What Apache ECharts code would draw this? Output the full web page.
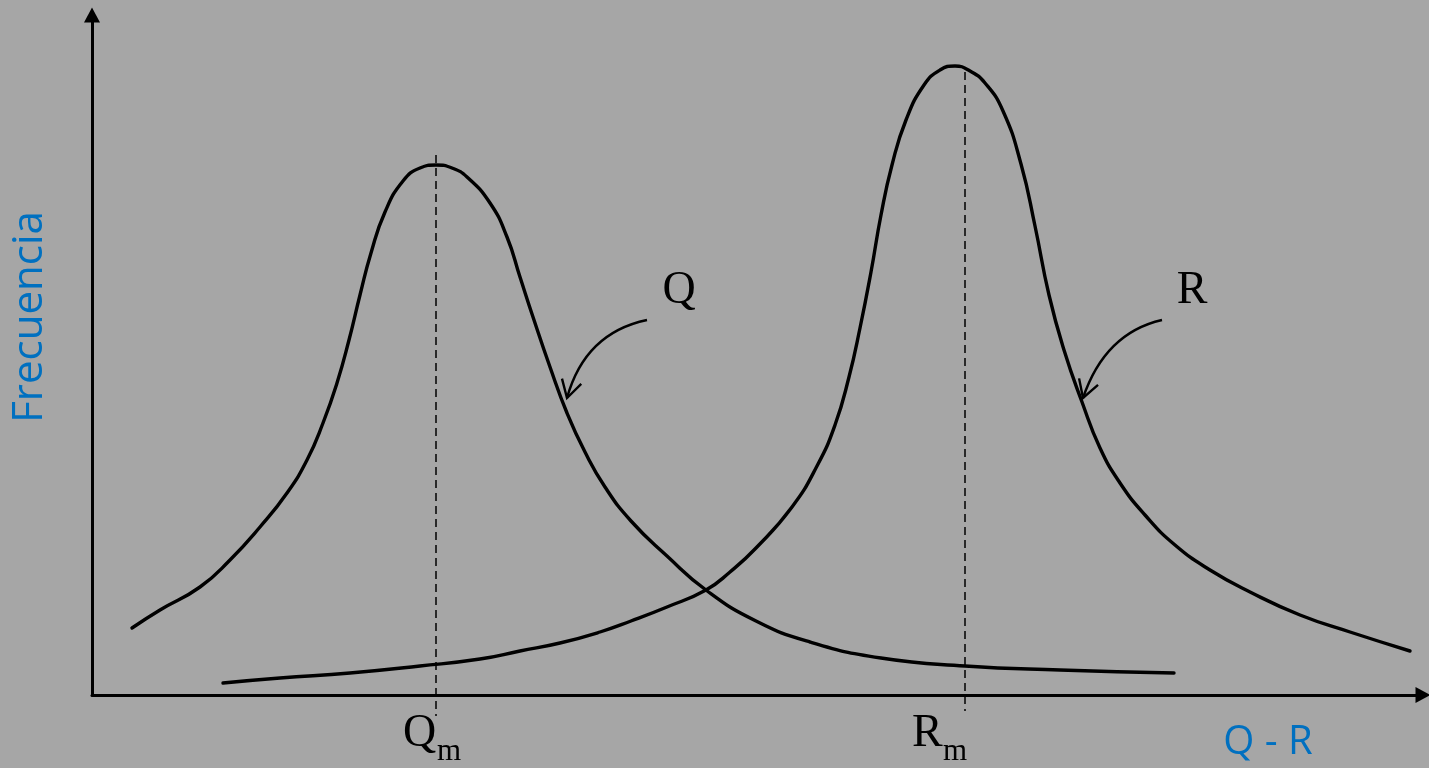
<!DOCTYPE html>
<html>
<head>
<meta charset="utf-8">
<script src="https://cdn.jsdelivr.net/npm/echarts@6/dist/echarts.min.js"></script>
<style>
  html, body { margin: 0; padding: 0; background: #a6a6a6; }
  #chart { width: 1429px; height: 768px; }
</style>
</head>
<body>
<div id="chart"></div>
<script>
// Frequency curves of Q and R (arbitrary units: x runs along Q - R, y is frequency)
const curveQ = [
  [40, 67], [68, 85], [108, 108], [138, 135], [168, 168], [195, 202], [215, 235],
  [231, 272], [245, 312], [257, 355], [268, 400], [279, 442], [293, 483], [311, 514],
  [328, 527], [344, 530], [360, 527], [375, 518], [398, 492], [415, 458], [428, 418],
  [441, 378], [458, 328], [475, 282], [493, 243], [513, 208], [539, 174], [575, 139],
  [614, 105], [664, 74], [718, 53], [789, 37], [873, 29], [968, 25], [1082, 22]
];
const curveR = [
  [131, 12], [188, 17], [258, 22], [328, 29], [388, 36], [428, 44], [468, 52],
  [508, 63], [539, 74], [575, 88], [614, 105], [638, 123], [664, 147], [700, 188],
  [725, 229], [743, 270], [757, 318], [768, 367], [779, 423], [789, 480], [800, 530],
  [814, 575], [832, 610], [848, 625], [863, 629], [878, 624], [893, 612], [911, 584],
  [929, 531], [943, 469], [957, 400], [972, 345], [990, 293], [1008, 247], [1028, 212],
  [1053, 180], [1083, 150], [1118, 125], [1158, 103], [1208, 80], [1258, 63], [1318, 44]
];

// Modes: dashed guides and their labels Q_m, R_m
const modeNames = ['Q', 'R'];
const modeSub = 'm';
const modeX = [344, 873];
const modeGuideTop = [540, 623];
const modeGuideBottom = [-21, -16];

// Callouts naming each curve
const calloutNames = ['Q', 'R'];
const calloutLabelAt = [[587, 404], [1100, 404]];
const calloutFrom = [[555, 375], [1070, 375]];
const calloutCtrl = [[493, 362], [1013, 362]];
const calloutTip = [[475, 297], [991, 297]];

const axisNameX = 'Q - R';
const axisNameY = 'Frecuencia';

// ---- styles ----
const INK = '#000000';
const BLUE = '#0070c0';
const SERIF = '"Liberation Serif", "Times New Roman", serif';
const SANS = '"Open Sans", "Noto Sans", sans-serif';
// label layout relative to each guide (pixels): left edge of the letter, advance to the subscript
const modeLabelDx = [-33, -53];
const modeLabelAdvance = [34, 31];

const chart = echarts.init(document.getElementById('chart'), null, { renderer: 'canvas' });

const guideSeries = modeX.map((x, i) => ({
  type: 'line',
  data: [[x, modeGuideTop[i]], [x, modeGuideBottom[i]]],
  symbol: 'none',
  clip: false,
  silent: true,
  z: 1,
  lineStyle: { color: INK, width: 1.5, type: [8, 5] }
}));

function curveSeries(name, data) {
  return {
    name: name,
    type: 'line',
    data: data,
    symbol: 'none',
    smooth: 0.5,
    silent: true,
    z: 3,
    lineStyle: { color: INK, width: 3.4, cap: 'round', join: 'round' }
  };
}

const modeLabelSeries = {
  type: 'custom',
  coordinateSystem: 'cartesian2d',
  silent: true,
  clip: false,
  z: 4,
  data: modeX.map(x => [x, 0]),
  renderItem: function (params, api) {
    const i = params.dataIndex;
    const p = api.coord([api.value(0), api.value(1)]);
    const left = p[0] + modeLabelDx[i];
    return {
      type: 'group',
      children: [
        {
          type: 'text',
          x: left, y: p[1] + 39,
          style: {
            text: modeNames[i], fill: INK, font: '46px ' + SERIF,
            align: 'left', textAlign: 'left', verticalAlign: 'middle', textVerticalAlign: 'middle'
          }
        },
        {
          type: 'text',
          x: left + modeLabelAdvance[i], y: p[1] + 57,
          style: {
            text: modeSub, fill: INK, font: '31px ' + SERIF,
            align: 'left', textAlign: 'left', verticalAlign: 'middle', textVerticalAlign: 'middle'
          }
        }
      ]
    };
  }
};

const calloutSeries = {
  type: 'custom',
  coordinateSystem: 'cartesian2d',
  silent: true,
  clip: false,
  z: 4,
  data: calloutNames.map((n, i) => [
    calloutFrom[i][0], calloutFrom[i][1],
    calloutCtrl[i][0], calloutCtrl[i][1],
    calloutTip[i][0], calloutTip[i][1],
    calloutLabelAt[i][0], calloutLabelAt[i][1]
  ]),
  renderItem: function (params, api) {
    const i = params.dataIndex;
    const a = api.coord([api.value(0), api.value(1)]);
    const c = api.coord([api.value(2), api.value(3)]);
    const t = api.coord([api.value(4), api.value(5)]);
    const l = api.coord([api.value(6), api.value(7)]);
    // arrow head: two strokes swept back from the tip along the curve's end tangent
    const back = Math.atan2(c[1] - t[1], c[0] - t[0]);
    const len = 20, spread = Math.PI / 6;
    const h1 = [t[0] + len * Math.cos(back + spread), t[1] + len * Math.sin(back + spread)];
    const h2 = [t[0] + len * Math.cos(back - spread), t[1] + len * Math.sin(back - spread)];
    return {
      type: 'group',
      children: [
        {
          type: 'bezierCurve',
          shape: { x1: a[0], y1: a[1], cpx1: c[0], cpy1: c[1], x2: t[0], y2: t[1] },
          style: { stroke: INK, lineWidth: 2.4, fill: null }
        },
        {
          type: 'polyline',
          shape: { points: [h1, t, h2] },
          style: { stroke: INK, lineWidth: 2.4, fill: null }
        },
        {
          type: 'text',
          x: l[0], y: l[1],
          style: {
            text: calloutNames[i], fill: INK, font: '46px ' + SERIF,
            align: 'center', textAlign: 'center', verticalAlign: 'middle', textVerticalAlign: 'middle'
          }
        }
      ]
    };
  }
};

const hiddenAxisParts = {
  axisTick: { show: false },
  axisLabel: { show: false },
  splitLine: { show: false }
};

chart.setOption({
  backgroundColor: '#a6a6a6',
  animation: false,
  grid: { left: 92, right: 6, top: 15, bottom: 73, containLabel: false },
  xAxis: Object.assign({
    type: 'value', min: 0, max: 1331,
    axisLine: {
      show: true, onZero: false,
      symbol: ['none', 'triangle'], symbolSize: [16, 15],
      lineStyle: { color: INK, width: 3 }
    }
  }, hiddenAxisParts),
  yAxis: Object.assign({
    type: 'value', min: 0, max: 680,
    axisLine: {
      show: true, onZero: false,
      symbol: ['none', 'triangle'], symbolSize: [16, 15],
      lineStyle: { color: INK, width: 3 }
    }
  }, hiddenAxisParts),
  graphic: [
    {
      type: 'text', x: 30, y: 317, rotation: Math.PI / 2,
      style: {
        text: axisNameY, fill: BLUE, font: '42px ' + SANS,
        align: 'center', textAlign: 'center', verticalAlign: 'middle', textVerticalAlign: 'middle'
      }
    },
    {
      type: 'text', x: 1268, y: 743,
      style: {
        text: axisNameX, fill: BLUE, font: '40px ' + SANS,
        align: 'center', textAlign: 'center', verticalAlign: 'middle', textVerticalAlign: 'middle'
      }
    }
  ],
  series: guideSeries.concat([
    curveSeries('Q', curveQ),
    curveSeries('R', curveR),
    modeLabelSeries,
    calloutSeries
  ])
});
</script>
</body>
</html>
